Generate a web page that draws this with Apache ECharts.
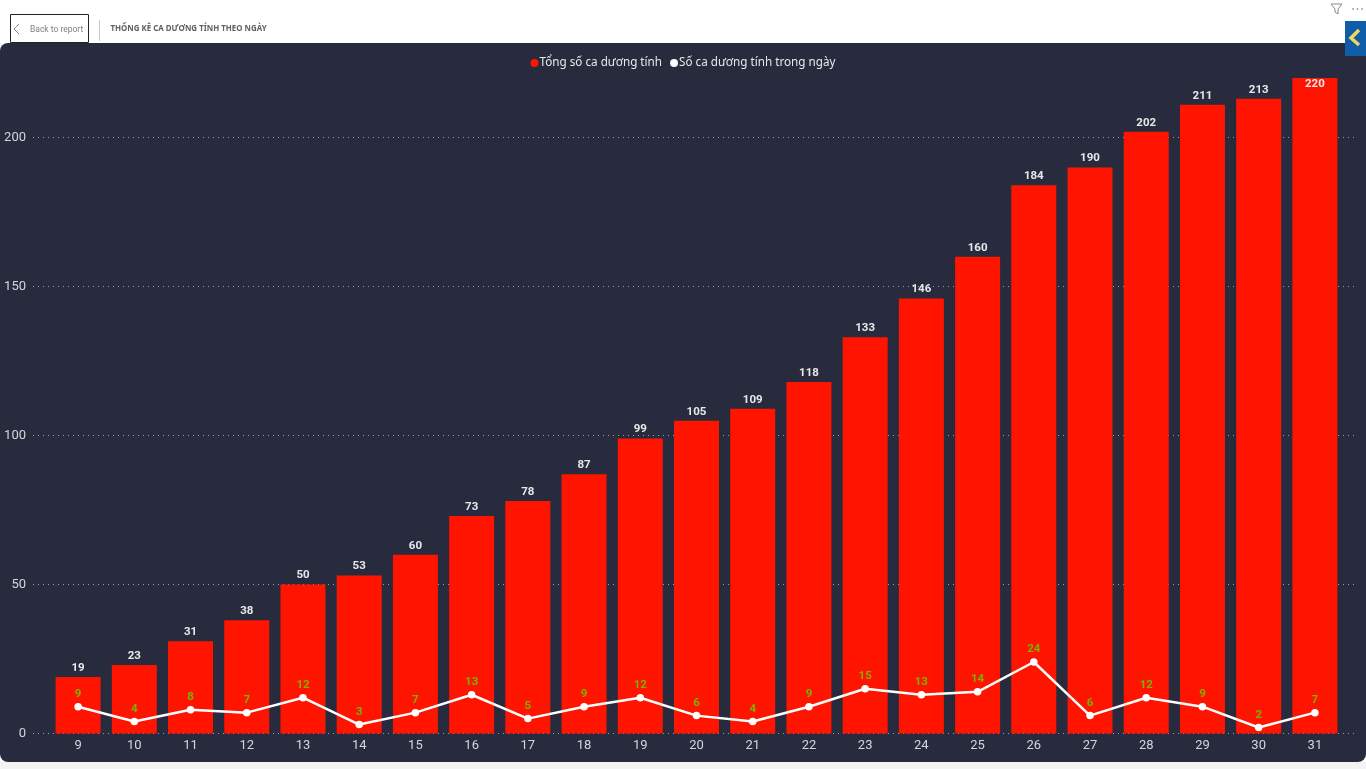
<!DOCTYPE html>
<html>
<head>
<meta charset="utf-8">
<style>
html,body{margin:0;padding:0;background:#fff;}
#chart{width:1366px;height:769px;}
</style>
<script src="https://cdn.jsdelivr.net/npm/echarts@6/dist/echarts.min.js"></script>
</head>
<body>
<div id="chart"></div>
<script>
var days = ['9','10','11','12','13','14','15','16','17','18','19','20','21','22','23','24','25','26','27','28','29','30','31'];
var totalCases = [19,23,31,38,50,53,60,73,78,87,99,105,109,118,133,146,160,184,190,202,211,213,220];
var dailyCases = [9,4,8,7,12,3,7,13,5,9,12,6,4,9,15,13,14,24,6,12,9,2,7];
var totalName = 'Tổng số ca dương tính';
var dailyName = 'Số ca dương tính trong ngày';
var fontName = 'Roboto, sans-serif';

var myChart = echarts.init(document.getElementById('chart'));

var option = {
    animation: false,
    textStyle: {fontFamily: fontName},
    legend: {
        top: 52,
        left: 'center',
        itemGap: 8,
        itemWidth: 8,
        itemHeight: 8,
        icon: 'circle',
        textStyle: {color: '#e8e8ea', fontSize: 11.7, fontFamily: '"Noto Sans", sans-serif', padding: [0, 0, 0, -4]},
        data: [
            {name: totalName, itemStyle: {color: '#ff1400'}},
            {name: dailyName, itemStyle: {color: '#ffffff'}}
        ]
    },
    // grid 0 carries the long dotted lines, grid 1 the bars
    grid: [
        {left: 33, right: 8, top: 78, bottom: 35.5},
        {left: 50, right: 23, top: 78, bottom: 35.5}
    ],
    xAxis: [
        {gridIndex: 0, type: 'category', data: days, show: false},
        {
            gridIndex: 1,
            type: 'category',
            data: days,
            axisLine: {show: false},
            axisTick: {show: false},
            axisLabel: {color: '#d5d6da', fontSize: 13, margin: 6}
        }
    ],
    yAxis: [
        {
            gridIndex: 0,
            type: 'value',
            min: 0,
            max: 220,
            interval: 50,
            axisLine: {show: false},
            axisTick: {show: false},
            axisLabel: {color: '#d5d6da', fontSize: 13, margin: 7, padding: [2, 0, 0, 0], showMaxLabel: false},
            splitLine: {showMaxLine: false, lineStyle: {color: '#9a9da8', type: [1, 4], width: 1}}
        },
        {gridIndex: 1, type: 'value', min: 0, max: 220, show: false}
    ],
    series: [
        {
            name: totalName,
            type: 'bar',
            xAxisIndex: 1,
            yAxisIndex: 1,
            barWidth: 45,
            itemStyle: {color: '#ff1400'},
            label: {
                show: true,
                position: 'top',
                distance: 3,
                color: '#e8e8ea',
                fontSize: 11.5,
                fontWeight: 'bold'
            },
            labelLayout: function (params) {
                // the last bar touches the top, so its label sits inside
                if (params.dataIndex === totalCases.length - 1) {
                    return {dy: 15};
                }
            },
            data: totalCases
        },
        {
            name: dailyName,
            type: 'line',
            xAxisIndex: 1,
            yAxisIndex: 1,
            symbol: 'circle',
            symbolSize: 7.5,
            itemStyle: {color: '#ffffff'},
            lineStyle: {color: '#ffffff', width: 2.5},
            label: {
                show: true,
                position: 'top',
                distance: 3,
                color: '#7fb000',
                fontSize: 11.5,
                fontWeight: 'bold'
            },
            z: 5,
            data: dailyCases
        }
    ],
    graphic: [
        // dark panel
        {type: 'rect', z: -10, silent: true, shape: {x: 0, y: 43, width: 1366, height: 719, r: [8, 0, 8, 8]}, style: {fill: '#282b3d'}},
        // light strip under the panel
        {type: 'rect', z: -11, silent: true, shape: {x: 0, y: 762, width: 1366, height: 7}, style: {fill: '#f3f3f3'}},
        // back button
        {type: 'rect', silent: true, shape: {x: 10.5, y: 14.5, width: 78, height: 28}, style: {fill: '#fff', stroke: '#222', lineWidth: 1}},
        {type: 'polyline', silent: true, shape: {points: [[19, 24], [14, 29], [19, 34]]}, style: {stroke: '#888', fill: null, lineWidth: 1}},
        {type: 'text', silent: true, style: {x: 30, y: 25, text: 'Back to report', fill: '#808080', font: '8.5px Roboto'}},
        {type: 'line', silent: true, shape: {x1: 99.5, y1: 20, x2: 99.5, y2: 41}, style: {stroke: '#c8c8c8', lineWidth: 1}},
        {type: 'text', silent: true, style: {x: 110.5, y: 24.5, text: 'THỐNG KÊ CA DƯƠNG TÍNH THEO NGÀY', fill: '#606060', font: 'bold 7.9px "Noto Sans"'}},
        // filter and more icons
        {type: 'polyline', silent: true, shape: {points: [[1331, 4], [1342, 4], [1338, 9], [1338, 14], [1335, 12], [1335, 9], [1331, 4]]}, style: {stroke: '#888', fill: null, lineWidth: 1}},
        {type: 'circle', silent: true, shape: {cx: 1353, cy: 9, r: 0.8}, style: {fill: '#666'}},
        {type: 'circle', silent: true, shape: {cx: 1357.5, cy: 9, r: 0.8}, style: {fill: '#666'}},
        {type: 'circle', silent: true, shape: {cx: 1362, cy: 9, r: 0.8}, style: {fill: '#666'}},
        // side tab
        {type: 'rect', silent: true, shape: {x: 1345, y: 21, width: 21, height: 35}, style: {fill: '#0f5ca8'}},
        {type: 'polyline', silent: true, shape: {points: [[1359, 30], [1351, 38], [1359, 45]]}, style: {stroke: '#f2d55c', fill: null, lineWidth: 3.5}}
    ]
};

myChart.setOption(option);
</script>
</body>
</html>
